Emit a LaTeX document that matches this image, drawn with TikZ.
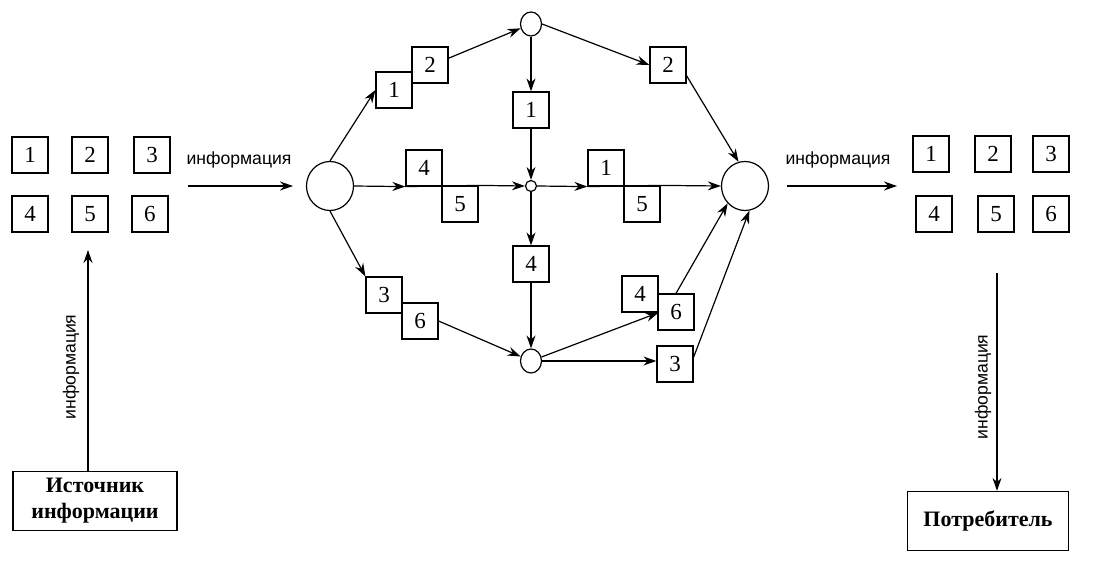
\documentclass[tikz,border=0pt]{standalone}
\usepackage{fontspec}
\setmainfont{Liberation Serif}
\newfontfamily\infofont{Liberation Sans}
\usetikzlibrary{arrows.meta,shapes.geometric}

\tikzset{
  sq/.style={draw, minimum size=18pt, inner sep=0pt, fill=white, font=\fontsize{11.5}{13}\selectfont},
  big/.style={draw, ellipse, minimum width=23.5pt, minimum height=24.5pt, inner sep=0pt},
  small/.style={draw, ellipse, minimum width=10.5pt, minimum height=12pt, inner sep=0pt},
  dot/.style={draw, circle, minimum size=5.5pt, inner sep=0pt},
  arr/.style={-{Stealth[length=6.5pt,width=4.5pt]}},
  info/.style={font=\infofont\fontsize{8.8}{11}\selectfont, inner sep=0pt},
  endbox/.style={draw, font=\bfseries\fontsize{11}{13}\selectfont, align=center, minimum height=29.5pt}
}

\begin{document}
\begin{tikzpicture}[x=0.5pt,y=-0.5pt,line width=0.6pt]
\useasboundingbox (0,0) rectangle (1105,567);

% left set
\node[sq] (a1) at (30,155) {1};
\node[sq] (a2) at (90,155) {2};
\node[sq] (a3) at (152,155) {3};
\node[sq] (a4) at (30,214) {4};
\node[sq] (a5) at (90,214) {5};
\node[sq] (a6) at (150,214) {6};

\node[endbox, minimum width=82pt] (src) at (95,501) {Источник\\информации};
\coordinate (srcup) at (88,250);
\draw[arr] (src.north -| srcup) -- (srcup);
\node[info, rotate=90] (lbl1) at (71,367) {информация};

\coordinate (in1) at (188,186);
\coordinate (in2) at (293,186);
\draw[arr] (in1) -- (in2);
\node[info] (lbl2) at (239,160) {информация};

% hubs
\node[big] (L) at (330,186) {};
\node[small] (T) at (531,24) {};
\node[dot] (C) at (531,186) {};
\node[small] (B) at (531,361) {};
\node[big] (R) at (745,186) {};

% upper
\node[sq] (b1) at (394,90) {1};
\node[sq] (b2) at (430,65) {2};
\draw[arr] (L.north) -- (b1.west);
\draw[arr] (b2.20) -- (T);
\node[sq] (r2) at (668,65) {2};
\draw[arr] (T.east) -- (r2.west);
\draw[arr] (r2.-30) -- (R.105);

% vertical
\node[sq] (v1) at (531,110) {1};
\node[sq] (v4) at (531,264) {4};
\draw[arr] (T) -- (v1);
\draw[arr] (v1) -- (C);
\draw[arr] (C) -- (v4);
\draw[arr] (v4) -- (B);

% middle
\node[sq] (m4) at (424,168) {4};
\node[sq] (m5) at (460,204) {5};
\draw[arr] (L.east) -- (m4.south west);
\draw (m4.south west) -- (m5.north east);
\draw[arr] (m5.north east) -- (C.west);
\node[sq] (n1) at (606,168) {1};
\node[sq] (n5) at (642,204) {5};
\draw[arr] (C.east) -- (n1.south west);
\draw (n1.south west) -- (n5.north east);
\draw[arr] (n5.north east) -- (R.west);

% lower
\node[sq] (s3) at (384,295) {3};
\node[sq] (s6) at (420,321) {6};
\draw[arr] (L.south) -- (s3.north west);
\draw[arr] (s6.east) -- (B);
\node[sq] (t4) at (640,294) {4};
\node[sq] (t6) at (676,312) {6};
\draw[arr] (B) -- (t4.south east);
\draw[arr] (t6.north) -- (R.225);
\node[sq] (t3) at (675,364) {3};
\draw[arr] (B.east) -- (B.east -| t3.west);
\draw[arr] (t3.20) -- (R.280);

% right set
\coordinate (out1) at (787,186);
\coordinate (out2) at (897,186);
\draw[arr] (out1) -- (out2);
\node[info] (lbl3) at (838,160) {информация};

\node[sq] (c1) at (931,154) {1};
\node[sq] (c2) at (993,154) {2};
\node[sq] (c3) at (1051,154) {3};
\node[sq] (c4) at (934,214) {4};
\node[sq] (c5) at (996,214) {5};
\node[sq] (c6) at (1051,214) {6};

\node[endbox, minimum width=80.5pt] (dst) at (988,521) {Потребитель};
\coordinate (dstup) at (997,273);
\draw[arr] (dstup) -- (dstup |- dst.north);
\node[info, rotate=90] (lbl4) at (983,387) {информация};
\end{tikzpicture}
\end{document}
